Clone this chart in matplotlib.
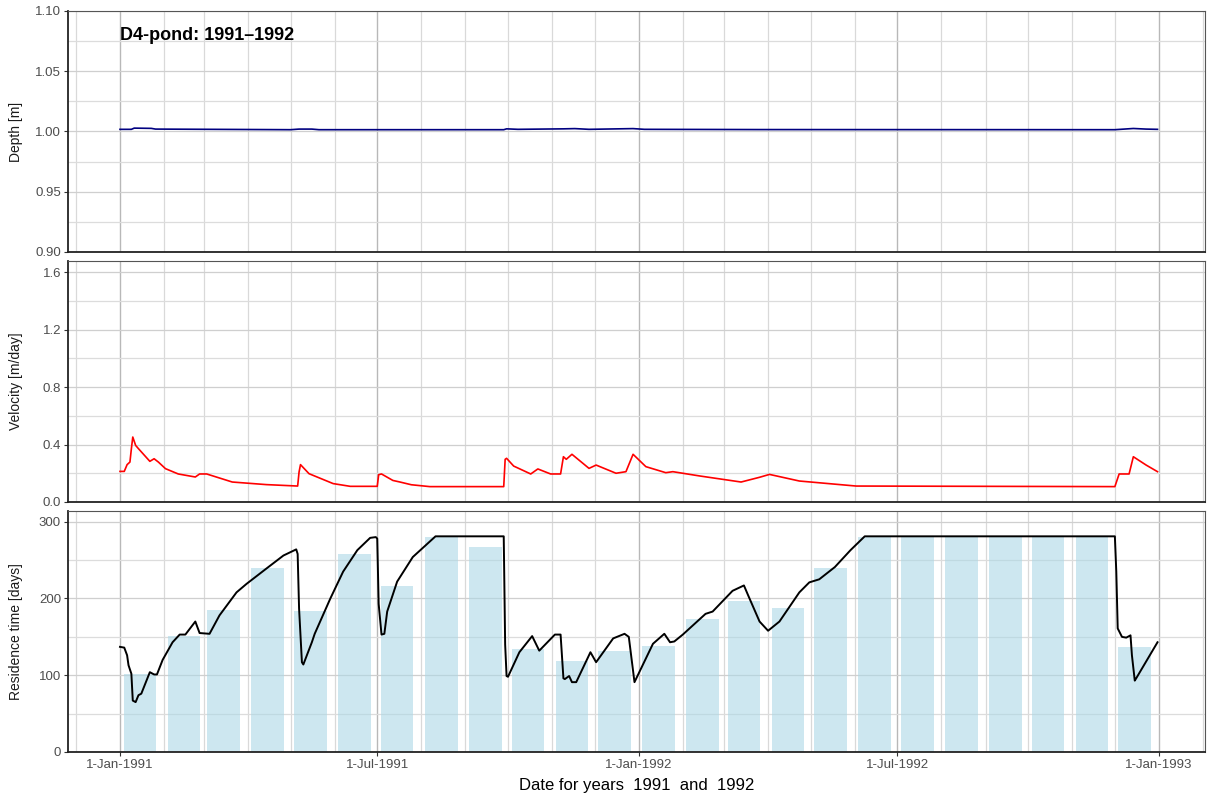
import matplotlib
matplotlib.use('Agg')
import matplotlib.pyplot as plt
import matplotlib.dates as mdates
from matplotlib.ticker import MultipleLocator, FuncFormatter
import pandas as pd

plt.rcParams['font.family'] = ['Liberation Sans', 'DejaVu Sans']

# ---- data ----
depth_dates = ['1991-01-01', '1991-01-09', '1991-01-11', '1991-01-23', '1991-01-26',
               '1991-05-01', '1991-05-07', '1991-05-16', '1991-05-21', '1991-09-28',
               '1991-09-30', '1991-10-08', '1991-11-09', '1991-11-17', '1991-11-27',
               '1991-12-28', '1992-01-05', '1992-03-26', '1992-12-01', '1992-12-14',
               '1992-12-23', '1992-12-31']
depth_vals = [1.0018, 1.0018, 1.0028, 1.0026, 1.0020,
              1.0015, 1.0020, 1.0020, 1.0015, 1.0015,
              1.0022, 1.0018, 1.0022, 1.0024, 1.0018,
              1.0024, 1.0018, 1.0016, 1.0015, 1.0025,
              1.0020, 1.0018]

vel_dates = ['1991-01-01', '1991-01-04', '1991-01-06', '1991-01-08', '1991-01-09',
             '1991-01-10', '1991-01-12', '1991-01-14', '1991-01-22', '1991-01-25',
             '1991-01-28', '1991-02-02', '1991-02-11', '1991-02-23', '1991-02-26',
             '1991-03-03', '1991-03-21', '1991-04-14', '1991-05-06', '1991-05-07',
             '1991-05-08', '1991-05-14', '1991-05-31', '1991-06-12', '1991-07-01',
             '1991-07-02', '1991-07-04', '1991-07-12', '1991-07-17', '1991-07-25',
             '1991-08-07', '1991-09-28', '1991-09-29', '1991-09-30', '1991-10-05',
             '1991-10-17', '1991-10-22', '1991-10-31', '1991-11-07', '1991-11-09',
             '1991-11-11', '1991-11-15', '1991-11-27', '1991-12-02', '1991-12-16',
             '1991-12-23', '1991-12-28', '1992-01-06', '1992-01-20', '1992-01-25',
             '1992-02-13', '1992-03-13', '1992-03-26', '1992-04-02', '1992-04-23',
             '1992-06-02', '1992-12-01', '1992-12-04', '1992-12-11', '1992-12-14',
             '1992-12-23', '1992-12-31']
vel_vals = [0.213, 0.213, 0.260, 0.278, 0.370,
            0.452, 0.394, 0.371, 0.283, 0.301,
            0.278, 0.232, 0.195, 0.174, 0.195,
            0.195, 0.139, 0.121, 0.111, 0.209,
            0.260, 0.197, 0.128, 0.109, 0.109,
            0.190, 0.195, 0.150, 0.139, 0.120,
            0.107, 0.107, 0.297, 0.304, 0.250,
            0.195, 0.230, 0.195, 0.195, 0.315,
            0.297, 0.332, 0.234, 0.257, 0.200,
            0.211, 0.332, 0.246, 0.204, 0.211,
            0.181, 0.139, 0.172, 0.192, 0.146,
            0.111, 0.107, 0.195, 0.195, 0.315,
            0.257, 0.211]

res_dates = ['1991-01-01', '1991-01-04', '1991-01-06', '1991-01-07', '1991-01-09',
             '1991-01-10', '1991-01-12', '1991-01-14', '1991-01-16', '1991-01-22',
             '1991-01-25', '1991-01-27', '1991-01-31', '1991-02-07', '1991-02-12',
             '1991-02-16', '1991-02-23', '1991-02-26', '1991-03-05', '1991-03-12',
             '1991-03-24', '1991-03-31', '1991-04-14', '1991-04-26', '1991-05-05',
             '1991-05-06', '1991-05-07', '1991-05-09', '1991-05-10', '1991-05-16',
             '1991-05-18', '1991-05-29', '1991-06-07', '1991-06-17', '1991-06-26',
             '1991-06-30', '1991-07-01', '1991-07-02', '1991-07-04', '1991-07-06',
             '1991-07-08', '1991-07-15', '1991-07-26', '1991-08-11', '1991-09-28',
             '1991-09-29', '1991-09-30', '1991-10-01', '1991-10-09', '1991-10-18',
             '1991-10-23', '1991-11-03', '1991-11-07', '1991-11-09', '1991-11-10',
             '1991-11-13', '1991-11-15', '1991-11-18', '1991-11-28', '1991-12-02',
             '1991-12-14', '1991-12-22', '1991-12-25', '1991-12-29', '1992-01-11',
             '1992-01-19', '1992-01-23', '1992-01-26', '1992-02-01', '1992-02-17',
             '1992-02-22', '1992-03-07', '1992-03-15', '1992-03-18', '1992-03-26',
             '1992-04-01', '1992-04-09', '1992-04-16', '1992-04-23', '1992-04-30',
             '1992-05-07', '1992-05-18', '1992-05-29', '1992-06-08', '1992-12-01',
             '1992-12-02', '1992-12-03', '1992-12-06', '1992-12-09', '1992-12-12',
             '1992-12-13', '1992-12-15', '1992-12-16', '1992-12-31']
res_vals = [137, 136, 126, 113, 102,
            67, 65, 74, 76, 104,
            101, 101, 120, 143, 153,
            153, 170, 155, 154, 178,
            208, 219, 239, 256, 264,
            258, 187, 117, 114, 143,
            154, 200, 235, 263, 279,
            280, 278, 193, 153, 154,
            183, 222, 254, 281, 281,
            140, 99, 98, 130, 151,
            132, 153, 153, 96, 95,
            99, 91, 91, 130, 117,
            148, 154, 150, 91, 141,
            154, 143, 144, 153, 180,
            183, 210, 217, 204, 170,
            158, 170, 189, 208, 221,
            225, 241, 263, 281, 281,
            235, 161, 150, 149, 152,
            126, 93, 96, 143]

# monthly bars, one per month, placed mid-month
bar_months = pd.date_range('1991-01-01', periods=24, freq='MS') + pd.Timedelta(days=14)
bar_vals = [102, 151, 185, 240, 184, 258, 216, 280, 267, 134, 119, 132,
            138, 173, 197, 187, 240, 280, 280, 280, 280, 280, 280, 137]

# ---- figure ----
fig = plt.figure(figsize=(12.1, 7.98), dpi=100)
rect_l, rect_w, rect_h = 68 / 1210, 1137 / 1210, 241 / 798
ax1 = fig.add_axes([rect_l, 1 - 252 / 798, rect_w, rect_h])
ax2 = fig.add_axes([rect_l, 1 - 502 / 798, rect_w, rect_h])
ax3 = fig.add_axes([rect_l, 1 - 752 / 798, rect_w, rect_h])

d2n = lambda s: mdates.date2num(pd.to_datetime(s).to_pydatetime())
xmin = d2n('1990-11-25 10:00')
xmax = d2n('1993-02-02 10:00')


def fmt_date(v, pos):
    d = mdates.num2date(v)
    return f"{d.day}-{d:%b-%Y}"


for ax in (ax1, ax2, ax3):
    ax.set_xlim(xmin, xmax)
    ax.xaxis.set_major_locator(mdates.MonthLocator(bymonth=[1, 7]))
    ax.xaxis.set_minor_locator(mdates.MonthLocator())
    ax.xaxis.set_major_formatter(FuncFormatter(fmt_date))
    ax.set_axisbelow(True)
    ax.grid(True, axis='x', which='major', color='#b8b8b8', lw=1.0)
    ax.grid(True, axis='x', which='minor', color='#d9d9d9', lw=0.9)
    ax.grid(True, axis='y', which='major', color='#cfcfcf', lw=0.9)
    ax.grid(True, axis='y', which='minor', color='#dcdcdc', lw=0.9)
    for s in ('left', 'bottom'):
        ax.spines[s].set_color('#222222')
        ax.spines[s].set_linewidth(1.3)
    for s in ('top', 'right'):
        ax.spines[s].set_color('#555555')
        ax.spines[s].set_linewidth(0.8)
    ax.tick_params(axis='y', which='major', length=3, width=0.8, color='#333333',
                   labelsize=9.5, labelcolor='#4d4d4d', pad=2)
    ax.tick_params(axis='y', which='minor', length=0)
    ax.yaxis.label.set_size(10)
    ax.yaxis.label.set_color('#1a1a1a')

for ax in (ax1, ax2):
    ax.tick_params(axis='x', which='both', length=0, labelbottom=False)
ax3.tick_params(axis='x', which='major', length=3, width=0.8, color='#333333',
                labelsize=9.5, labelcolor='#4d4d4d', pad=2)
ax3.tick_params(axis='x', which='minor', length=0)

# depth
ax1.plot([d2n(d) for d in depth_dates], depth_vals, color='#000080', lw=1.2)
ax1.set_ylim(0.9, 1.1)
ax1.yaxis.set_major_locator(MultipleLocator(0.05))
ax1.yaxis.set_minor_locator(MultipleLocator(0.025))
ax1.yaxis.set_major_formatter(FuncFormatter(lambda v, p: f"{v:.2f}"))
ax1.set_ylabel('Depth [m]')
ax1.text(d2n('1991-01-01'), 1.0793, 'D4-pond: 1991\u20131992', fontsize=13,
         fontweight='bold', va='center', ha='left')

# velocity
ax2.plot([d2n(d) for d in vel_dates], vel_vals, color='#ff0000', lw=1.2)
ax2.set_ylim(0, 1.677)
ax2.yaxis.set_major_locator(MultipleLocator(0.4))
ax2.yaxis.set_minor_locator(MultipleLocator(0.2))
ax2.yaxis.set_major_formatter(FuncFormatter(lambda v, p: f"{v:.1f}"))
ax2.set_ylabel('Velocity [m/day]')

# residence time
ax3.bar([mdates.date2num(d.to_pydatetime()) for d in bar_months], bar_vals,
        width=23, color='#add8e6', alpha=0.6, zorder=2)
ax3.plot([d2n(d) for d in res_dates], res_vals, color='black', lw=1.4, zorder=3)
ax3.set_ylim(0, 314)
ax3.yaxis.set_major_locator(MultipleLocator(100))
ax3.yaxis.set_minor_locator(MultipleLocator(50))
ax3.set_ylabel('Residence time [days]')
ax3.set_xlabel('Date for years  1991  and  1992', fontsize=12, color='black')
ax3.xaxis.set_label_coords(0.5, -0.106)
ax3.xaxis.label.set_va('top')

for ax in (ax1, ax2, ax3):
    ax.yaxis.set_label_coords(-0.040, 0.5)

fig.savefig('out.png', dpi=100)
